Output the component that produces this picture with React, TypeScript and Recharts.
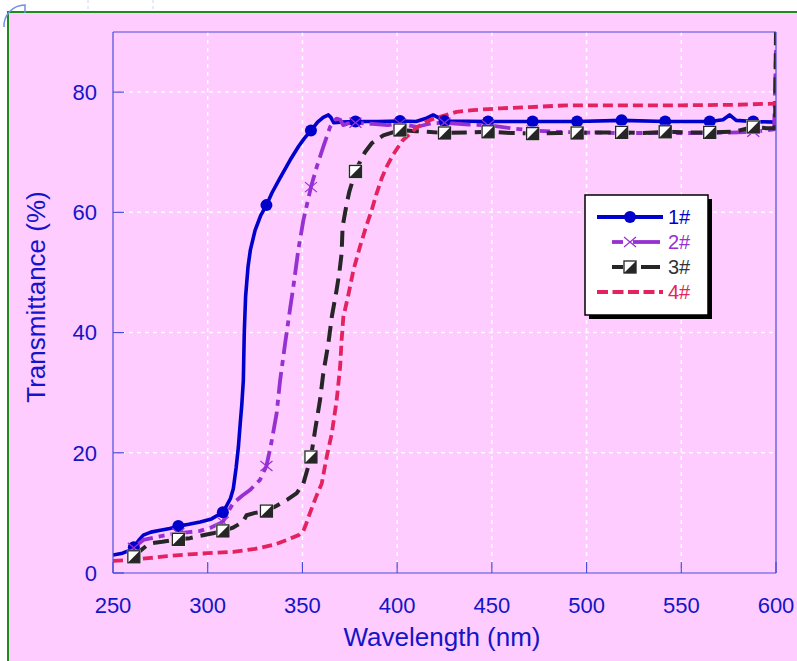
import React from 'react';
import { LineChart, Line, XAxis, YAxis, CartesianGrid } from 'recharts';

// Axis ticks
const X_TICKS = [250, 300, 350, 400, 450, 500, 550, 600];
const Y_TICKS = [0, 20, 40, 60, 80];
const X_GRID = [300, 350, 400, 450, 500, 550];
const Y_GRID = [20, 40, 60, 80];

// Wavelengths (nm) at which symbols are drawn on the curves
const MARKER_NM = [261, 284.5, 308, 331, 354.5, 378, 401.5, 425, 448, 471.5, 495, 518.5, 541.5, 565, 588];

// Sample 1#
const S1_NM = [250, 255, 260, 261, 264, 266, 270, 275, 280, 284.5, 290, 296, 302, 308, 310, 312, 313.5, 315, 316.2, 317.2, 318, 318.8, 319.3, 320, 321.3, 322.5, 325, 328, 331, 334, 338, 343.5, 348, 351, 354.5, 358, 361, 363.7, 365, 366.5, 370, 378, 390, 401.5, 410, 415, 419, 422, 425, 448, 471.5, 495, 518.5, 541.5, 565, 572, 575.5, 579, 588, 600];
const S1_T = [3.0, 3.3, 3.9, 4.3, 5.6, 6.3, 6.8, 7.1, 7.4, 7.8, 8.1, 8.5, 9.0, 10.1, 11.2, 12.4, 14.0, 17.5, 21.0, 25.0, 28.0, 32.0, 40.0, 46.0, 51.0, 53.7, 57.0, 59.5, 61.2, 63.3, 65.6, 68.7, 71.0, 72.3, 73.6, 75.0, 75.8, 76.2, 75.8, 74.9, 75.0, 75.1, 75.1, 75.2, 75.1, 75.6, 76.2, 75.7, 75.2, 75.1, 75.1, 75.1, 75.3, 75.1, 75.1, 75.4, 76.2, 75.3, 75.1, 75.0];

// Sample 2#
const S2_NM = [261, 264, 266, 272, 278, 284.5, 290, 296, 302, 308, 311, 313.4, 318, 322.3, 327.6, 331, 333.5, 336.4, 338.2, 341, 343.5, 345.2, 347.8, 350.5, 354.5, 357.6, 361, 364.6, 366, 368, 370, 371.5, 374, 378, 387, 395, 401.5, 410, 418, 425, 438, 448, 460, 471.5, 485, 495, 518.5, 541.5, 565, 580, 588, 599, 600];
const S2_T = [4.2, 5.0, 5.5, 5.9, 6.3, 6.6, 6.8, 7.0, 7.6, 8.5, 10.3, 11.6, 12.8, 13.8, 15.5, 17.8, 21.5, 26.6, 32.0, 38.5, 44.0, 47.6, 53.7, 58.7, 64.2, 67.6, 70.9, 74.2, 74.9, 75.6, 75.4, 74.5, 74.8, 74.9, 74.7, 74.5, 74.8, 74.2, 74.8, 74.9, 74.6, 74.5, 74.0, 73.6, 73.4, 73.3, 73.2, 73.2, 73.2, 73.3, 73.4, 73.8, 87.0];

// Sample 3#
const S3_NM = [261, 264, 268, 271, 276, 280, 284.5, 290.6, 296, 302.8, 308, 313, 318.6, 320.5, 325, 331, 336.4, 342, 347, 350.5, 354.5, 356.7, 359.3, 361, 363.7, 365.5, 368, 369.5, 370.7, 371.2, 373.4, 374.8, 378, 380.4, 383, 386.6, 392.7, 401.5, 410, 425, 440, 448, 460, 471.5, 485, 495, 505, 518.5, 530, 541.5, 555, 565, 578, 588, 595, 599.5, 600];
const S3_T = [2.7, 3.6, 4.6, 5.0, 5.2, 5.4, 5.6, 5.8, 6.2, 6.6, 7.0, 7.5, 8.5, 9.6, 10.0, 10.3, 11.2, 12.2, 13.3, 14.9, 19.3, 23.8, 28.8, 33.2, 38.2, 42.6, 47.0, 50.0, 53.2, 57.6, 61.5, 63.5, 66.8, 68.4, 70.0, 71.5, 72.8, 73.7, 73.5, 73.2, 73.3, 73.4, 73.2, 73.1, 73.2, 73.2, 73.3, 73.3, 73.2, 73.4, 73.3, 73.3, 73.4, 74.2, 74.0, 74.0, 90.0];

// Sample 4#
const S4_NM = [250, 260, 270, 278.5, 290, 300, 313.4, 325, 335, 341.8, 348, 350.5, 352, 354, 357, 360.2, 362.8, 365.5, 368.1, 369.9, 370.7, 371.6, 374.2, 377, 380.4, 383.5, 386.6, 389, 391.9, 394.5, 397.5, 400.6, 403, 405.9, 410, 414.7, 418.5, 422.6, 427, 431.4, 440, 454.3, 470, 489.5, 520, 550, 580, 600];
const S4_T = [2.0, 2.2, 2.5, 2.8, 3.1, 3.3, 3.5, 4.0, 4.7, 5.5, 6.3, 7.0, 8.2, 10.0, 12.5, 14.9, 19.3, 23.2, 28.8, 34.3, 38.8, 42.6, 46.2, 50.5, 54.3, 57.5, 60.4, 63.0, 65.7, 67.6, 69.4, 70.9, 72.0, 72.8, 74.0, 75.0, 75.5, 75.9, 76.3, 76.7, 77.0, 77.3, 77.5, 77.8, 77.8, 77.8, 77.9, 78.1];

const BLUE = '#0000CC';
const PURPLE = '#9630D2';
const DARK = '#262626';
const RED = '#E42260';
const AXIS_BLUE = '#4B4BDC';
const TEXT_BLUE = '#1414C8';
const PINK = '#FFCCFF';
const FONT = '"Liberation Sans", Arial, sans-serif';

type Pt = { nm: number; t: number };
const zip = (nm: number[], t: number[]): Pt[] => nm.map((w, i) => ({ nm: w, t: t[i] }));

const SERIES = [
  { name: '1#', data: zip(S1_NM, S1_T), color: BLUE, width: 3.6, dash: undefined as string | undefined, marker: 'circle' },
  { name: '2#', data: zip(S2_NM, S2_T), color: PURPLE, width: 3.8, dash: '22 6 6 6', marker: 'cross' },
  { name: '3#', data: zip(S3_NM, S3_T), color: DARK, width: 4, dash: '16 8', marker: 'square' },
  { name: '4#', data: zip(S4_NM, S4_T), color: RED, width: 3.8, dash: '10 5', marker: 'none' },
];

function Marker({ kind, cx, cy, color }: { kind: string; cx: number; cy: number; color: string }) {
  if (kind === 'circle') return <circle cx={cx} cy={cy} r={6} fill={color} />;
  if (kind === 'cross')
    return (
      <g stroke={color} strokeWidth={1.2}>
        <line x1={cx - 6} y1={cy - 5} x2={cx + 6} y2={cy + 5} />
        <line x1={cx - 6} y1={cy + 5} x2={cx + 6} y2={cy - 5} />
      </g>
    );
  if (kind === 'square')
    return (
      <g>
        <rect x={cx - 7} y={cy - 7} width={14} height={14} fill="#f2f2f2" />
        <rect x={cx - 6} y={cy - 6} width={12} height={12} fill="#fff" stroke={color} strokeWidth={1.3} />
        <path d={`M${cx - 6},${cy + 6} L${cx + 6},${cy - 6} L${cx + 6},${cy + 6} Z`} fill={color} />
      </g>
    );
  return null;
}

const makeDot = (kind: string, color: string) => (props: any) => {
  const { cx, cy, payload, index } = props;
  if (kind === 'none' || cx == null || cy == null || !MARKER_NM.includes(payload.nm)) {
    return <g key={`e-${index}`} />;
  }
  return (
    <g key={`m-${index}`}>
      <Marker kind={kind} cx={cx} cy={cy} color={color} />
    </g>
  );
};

function LegendBox() {
  const left = 585;
  const top = 195;
  const rows = [217, 242, 267, 292];
  return (
    <svg width={797} height={661} style={{ position: 'absolute', left: 0, top: 0, pointerEvents: 'none' }}>
      <rect x={left + 4} y={top + 4} width={123} height={120} fill="#000" />
      <rect x={left} y={top} width={123} height={120} fill="#fff" stroke="#000" strokeWidth={1.5} />
      {/* 1# */}
      <line x1={597} y1={rows[0]} x2={663} y2={rows[0]} stroke={BLUE} strokeWidth={4} />
      <Marker kind="circle" cx={630} cy={rows[0]} color={BLUE} />
      {/* 2# */}
      <line x1={612} y1={rows[1]} x2={623} y2={rows[1]} stroke={PURPLE} strokeWidth={3.8} />
      <line x1={633} y1={rows[1]} x2={660} y2={rows[1]} stroke={PURPLE} strokeWidth={3.8} />
      <Marker kind="cross" cx={630} cy={rows[1]} color={PURPLE} />
      {/* 3# */}
      <line x1={612} y1={rows[2]} x2={623} y2={rows[2]} stroke={DARK} strokeWidth={4} />
      <line x1={641} y1={rows[2]} x2={660} y2={rows[2]} stroke={DARK} strokeWidth={4} />
      <Marker kind="square" cx={630} cy={rows[2]} color={DARK} />
      {/* 4# */}
      <line x1={597} y1={rows[3]} x2={663} y2={rows[3]} stroke={RED} strokeWidth={3.8} strokeDasharray="11 4.5" />
      {SERIES.map((s, i) => (
        <text key={s.name} x={668} y={rows[i] + 7} fontSize={20} fontFamily={FONT} fill={s.color === DARK ? '#333' : s.color}>
          {s.name}
        </text>
      ))}
      {/* axis titles */}
      <text x={442} y={646} textAnchor="middle" fontSize={26} fontFamily={FONT} fill={TEXT_BLUE}>
        Wavelength (nm)
      </text>
      <text x={45} y={297} textAnchor="middle" fontSize={26} fontFamily={FONT} fill={TEXT_BLUE} transform="rotate(-90 45 297)">
        Transmittance (%)
      </text>
    </svg>
  );
}

function Backdrop() {
  return (
    <svg width={797} height={661} style={{ position: 'absolute', left: 0, top: 0 }}>
      <rect x={0} y={0} width={797} height={661} fill="#fff" />
      <rect x={8} y={12} width={789} height={649} fill={PINK} />
      <line x1={88} y1={0} x2={88} y2={11} stroke="#c9d6f2" strokeDasharray="3 3" />
      <line x1={153} y1={0} x2={153} y2={11} stroke="#c9d6f2" strokeDasharray="3 3" />
      <path d="M8,661 L8,12 L797,12" fill="none" stroke="#1F8A1F" strokeWidth={2} />
      <path d="M4,27 A21,21 0 0 1 25,5 L25,13" fill="none" stroke="#7090E8" strokeWidth={1.5} />
    </svg>
  );
}

export default function App() {
  const tickStyle = { fill: TEXT_BLUE, fontSize: 22, fontFamily: FONT };
  return (
    <div style={{ position: 'absolute', left: 0, top: 0, width: 797, height: 661, overflow: 'hidden' }}>
      <Backdrop />
      <div style={{ position: 'absolute', left: 0, top: 0 }}>
        <LineChart width={797} height={661} margin={{ top: 31, right: 20, bottom: 48, left: 53 }}>
          <CartesianGrid
            stroke="#ffffff"
            strokeOpacity={0.95}
            strokeWidth={1.5}
            strokeDasharray="4 4"
            horizontalValues={Y_GRID}
            verticalValues={X_GRID}
          />
          <XAxis
            dataKey="nm"
            type="number"
            domain={[250, 600]}
            ticks={X_TICKS}
            allowDataOverflow
            height={40}
            tickSize={-11}
            tickMargin={35}
            tick={tickStyle}
            stroke={AXIS_BLUE}
            axisLine={{ stroke: AXIS_BLUE, strokeWidth: 1.2 }}
            tickLine={{ stroke: AXIS_BLUE, strokeWidth: 1.2 }}
          />
          <XAxis
            xAxisId="top"
            orientation="top"
            dataKey="nm"
            type="number"
            domain={[250, 600]}
            ticks={X_TICKS}
            height={1}
            tickSize={-11}
            tickFormatter={() => ''}
            axisLine={{ stroke: AXIS_BLUE, strokeWidth: 1.2 }}
            tickLine={{ stroke: AXIS_BLUE, strokeWidth: 1.2 }}
          />
          <YAxis
            type="number"
            domain={[0, 90]}
            ticks={Y_TICKS}
            allowDataOverflow
            width={60}
            tickSize={-11}
            tickMargin={27}
            tick={tickStyle}
            axisLine={{ stroke: AXIS_BLUE, strokeWidth: 1.2 }}
            tickLine={{ stroke: AXIS_BLUE, strokeWidth: 1.2 }}
          />
          <YAxis
            yAxisId="right"
            orientation="right"
            type="number"
            domain={[0, 90]}
            ticks={Y_TICKS}
            width={1}
            tickSize={-11}
            tickFormatter={() => ''}
            axisLine={{ stroke: AXIS_BLUE, strokeWidth: 1.2 }}
            tickLine={{ stroke: AXIS_BLUE, strokeWidth: 1.2 }}
          />
          {SERIES.map((s) => (
            <Line
              key={s.name}
              name={s.name}
              data={s.data}
              dataKey="t"
              type="linear"
              stroke={s.color}
              strokeWidth={s.width}
              strokeDasharray={s.dash}
              strokeLinejoin="round"
              dot={makeDot(s.marker, s.color)}
              activeDot={false}
              isAnimationActive={false}
            />
          ))}
        </LineChart>
      </div>
      <LegendBox />
    </div>
  );
}
